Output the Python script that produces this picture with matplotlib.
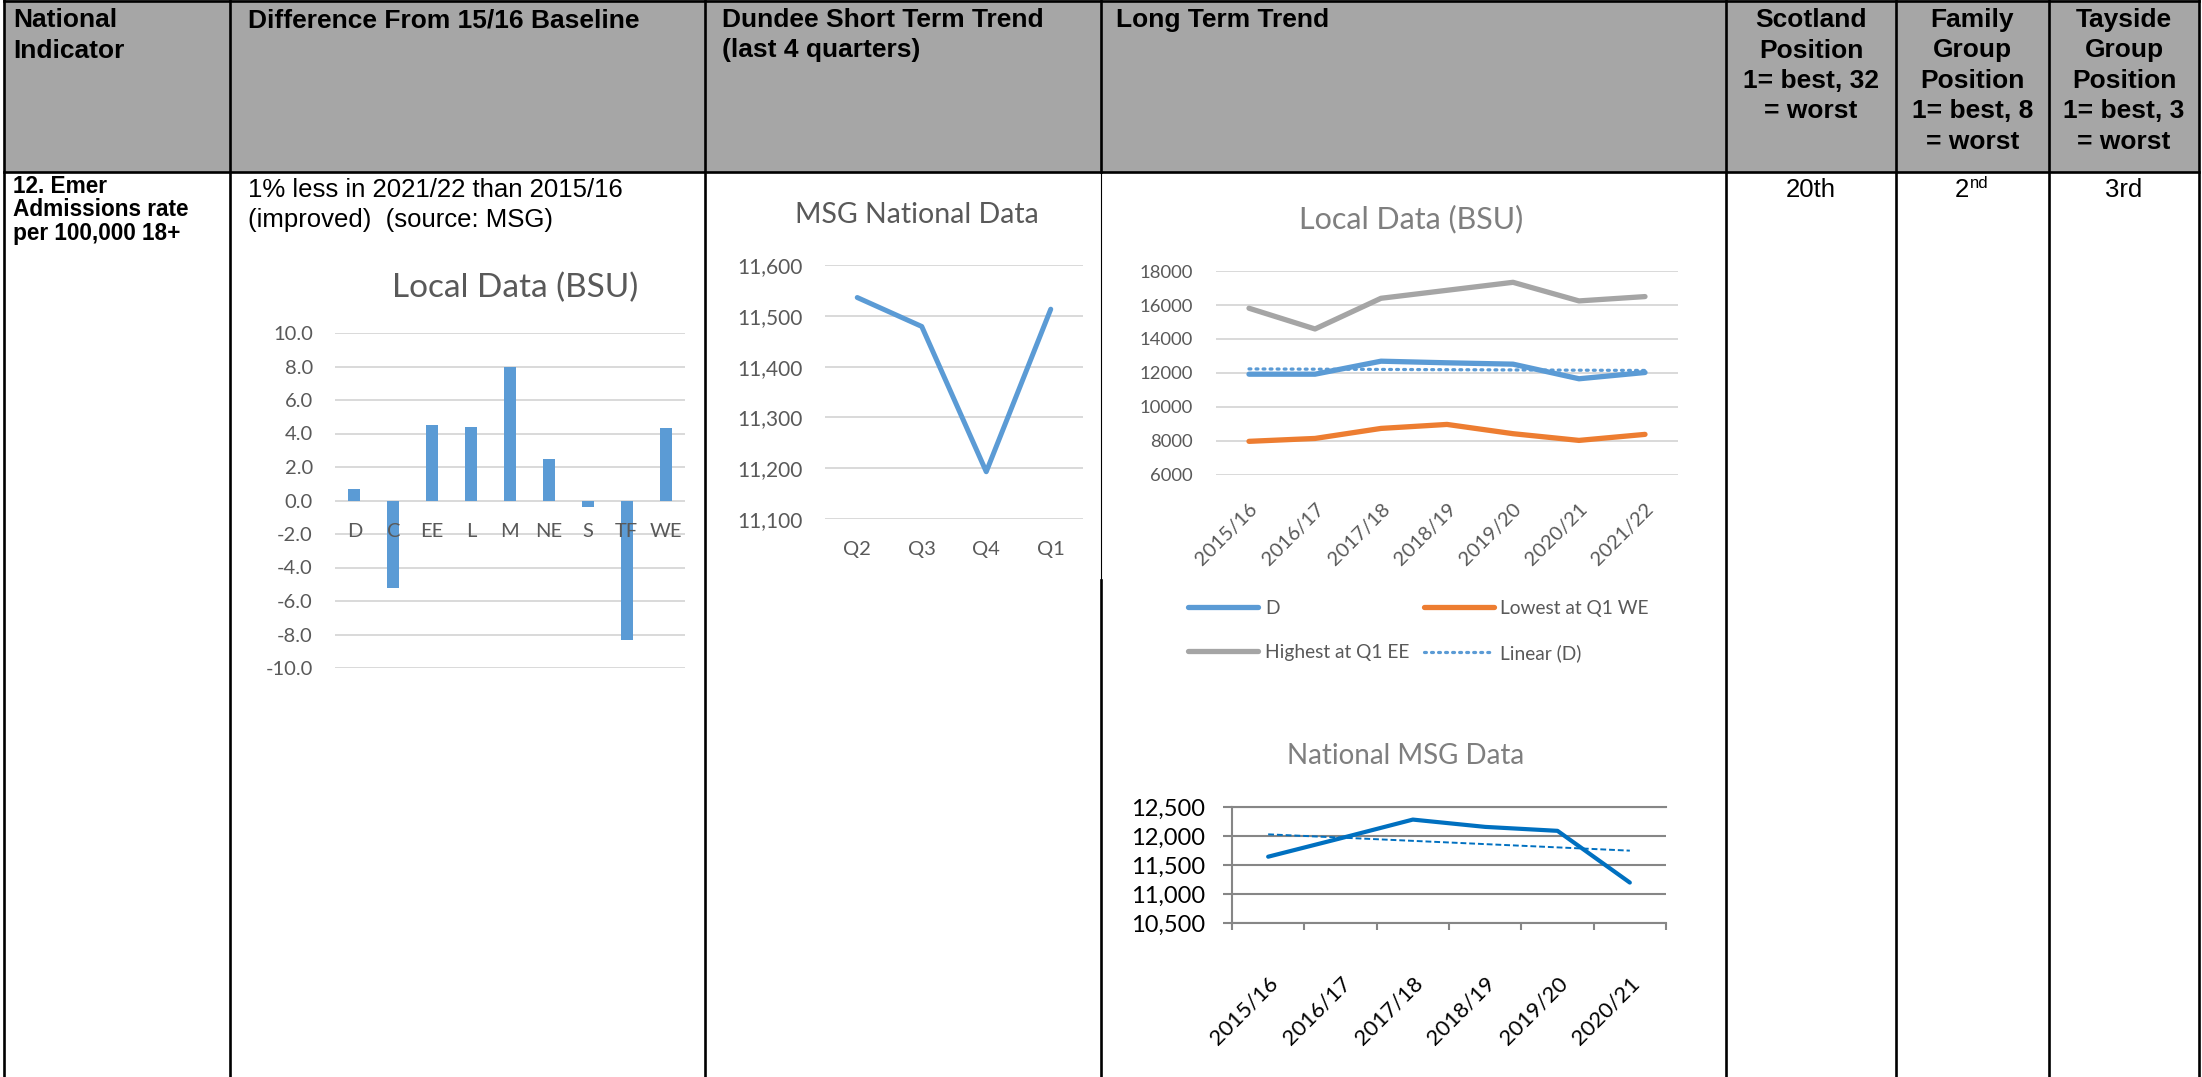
import matplotlib
matplotlib.use("Agg")
import matplotlib.pyplot as plt
import numpy as np
from matplotlib.patches import Rectangle
from matplotlib.ticker import FuncFormatter

W, H = 2202, 1077

# difference from 15/16 baseline by locality (Local Data (BSU))
bsu_areas = ["D", "C", "EE", "L", "M", "NE", "S", "TF", "WE"]
bsu_diff = [0.7, -5.2, 4.5, 4.4, 8.0, 2.5, -0.4, -8.3, 4.3]

# Dundee short term trend (MSG National Data)
quarters = ["Q2", "Q3", "Q4", "Q1"]
msg_quarterly = [11536, 11479, 11193, 11513]

# long term trend, local data
years_local = ["2015/16", "2016/17", "2017/18", "2018/19", "2019/20", "2020/21", "2021/22"]
local_d = [11930, 11930, 12695, 12600, 12520, 11660, 12030]
local_lowest_we = [7980, 8150, 8740, 8975, 8430, 8035, 8390]
local_highest_ee = [15810, 14590, 16395, 16865, 17335, 16240, 16495]

# long term trend, national MSG data
years_national = ["2015/16", "2016/17", "2017/18", "2018/19", "2019/20", "2020/21"]
national_msg = [11643, 11960, 12283, 12157, 12089, 11197]

# table text
header_lines = [
    ["National", "Indicator"],
    ["Difference From 15/16 Baseline"],
    ["Dundee Short Term Trend", "(last 4 quarters)"],
    ["Long Term Trend"],
    ["Scotland", "Position", "1= best, 32", "= worst"],
    ["Family", "Group", "Position", "1= best, 8", "= worst"],
    ["Tayside", "Group", "Position", "1= best, 3", "= worst"],
]
indicator_lines = ["12. Emer", "Admissions rate", "per 100,000 18+"]
difference_lines = ["1% less in 2021/22 than 2015/16", "(improved)  (source: MSG)"]
scotland_pos = "20th"
family_pos = ("2", "nd")
tayside_pos = "3rd"

BLUE = "#5B9BD5"
ORANGE = "#ED7D31"
GREY = "#A5A5A5"
DARK_BLUE = "#0070C0"
TXT = "#595959"
TABLE_FONT = "Liberation Sans"
CHART_FONT = "Lato"

col_edges = [4, 230, 705, 1101, 1726, 1896, 2049, 2199]
header_bottom = 172

fig = plt.figure(figsize=(W / 100, H / 100), dpi=100)

# background axes in pixel coordinates for the table
bg = fig.add_axes([0, 0, 1, 1])
bg.set_xlim(0, W)
bg.set_ylim(H, 0)
bg.axis("off")

bg.add_patch(Rectangle((col_edges[0], 0), col_edges[-1] - col_edges[0], header_bottom,
                       color="#A6A6A6", lw=0))
lw_border = 1.9
for i, x in enumerate(col_edges):
    if i == 3:
        bg.plot([x, x], [0, header_bottom], color="black", lw=lw_border)
        bg.plot([x, x], [header_bottom, 580], color="black", lw=0.8)
        bg.plot([x, x], [580, H], color="black", lw=lw_border)
    else:
        bg.plot([x, x], [0, H], color="black", lw=lw_border)
bg.plot([col_edges[0], col_edges[-1]], [1, 1], color="black", lw=lw_border)
bg.plot([col_edges[0], col_edges[-1]], [header_bottom, header_bottom], color="black", lw=lw_border)

# header text
left_x = [13, 248, 722, 1116]
for i, lines in enumerate(header_lines):
    for j, line in enumerate(lines):
        y = 27 + j * 30.5
        if i < 4:
            bg.text(left_x[i], y, line, fontsize=19, fontweight="bold", family=TABLE_FONT,
                    ha="left", va="baseline")
        else:
            cx = (col_edges[i] + col_edges[i + 1]) / 2
            bg.text(cx, y, line, fontsize=19, fontweight="bold", family=TABLE_FONT,
                    ha="center", va="baseline")

# body text
for j, line in enumerate(indicator_lines):
    bg.text(13, 193 + j * 23.5, line, fontsize=16.3, fontweight="bold", family=TABLE_FONT,
            ha="left", va="baseline")
for j, line in enumerate(difference_lines):
    bg.text(248, 197 + j * 30, line, fontsize=18.5, family=TABLE_FONT, ha="left", va="baseline")
bg.text((col_edges[4] + col_edges[5]) / 2, 197, scotland_pos, fontsize=18.5,
        family=TABLE_FONT, ha="center", va="baseline")
bg.text(1969, 197, family_pos[0], fontsize=18.5, family=TABLE_FONT, ha="right", va="baseline")
bg.text(1970, 188, family_pos[1], fontsize=12, family=TABLE_FONT, ha="left", va="baseline")
bg.text((col_edges[6] + col_edges[7]) / 2, 197, tayside_pos, fontsize=18.5,
        family=TABLE_FONT, ha="center", va="baseline")


def px_axes(left, top, right, bottom):
    ax = fig.add_axes([left / W, 1 - bottom / H, (right - left) / W, (bottom - top) / H])
    ax.set_facecolor("none")
    return ax


def chart_title(cx, baseline, text, size, color=TXT):
    bg.text(cx, baseline, text, fontsize=size, family=CHART_FONT, color=color,
            ha="center", va="baseline")


def clean_axes(ax):
    for s in ax.spines.values():
        s.set_visible(False)
    ax.yaxis.grid(True, color="#D9D9D9", lw=1.4)
    ax.set_axisbelow(True)


# chart 1: bar chart of difference from baseline
ax1 = px_axes(335, 333, 685, 668)
x1 = np.arange(len(bsu_areas))
ax1.bar(x1, bsu_diff, width=0.31, color=BLUE, zorder=3)
ax1.set_xlim(-0.5, len(bsu_areas) - 0.5)
ax1.set_ylim(-10, 10)
ax1.set_yticks(np.arange(-10, 10.1, 2))
ax1.yaxis.set_major_formatter(FuncFormatter(lambda v, p: f"{v:.1f}"))
clean_axes(ax1)
ax1.xaxis.set_zorder(5)  # category labels sit on top of the bars
ax1.spines["bottom"].set_position(("data", 0))
ax1.set_xticks(x1)
ax1.set_xticklabels(bsu_areas)
ax1.tick_params(axis="x", length=0, pad=16, labelsize=14.5, labelcolor=TXT)
ax1.tick_params(axis="y", length=0, pad=16, labelsize=14.5, labelcolor=TXT)
for lab in ax1.get_xticklabels() + ax1.get_yticklabels():
    lab.set_family(CHART_FONT)
chart_title(515, 297, "Local Data (BSU)", 24)

# chart 2: short term trend
ax2 = px_axes(825, 265, 1083, 519)
x2 = np.arange(len(quarters))
ax2.plot(x2, msg_quarterly, color=BLUE, lw=3.6, solid_capstyle="round",
         solid_joinstyle="round", zorder=3)
ax2.set_xlim(-0.5, len(quarters) - 0.5)
ax2.set_ylim(11100, 11600)
ax2.set_yticks(np.arange(11100, 11601, 100))
ax2.yaxis.set_major_formatter(FuncFormatter(lambda v, p: f"{v:,.0f}"))
clean_axes(ax2)
ax2.set_xticks(x2)
ax2.set_xticklabels(quarters)
ax2.tick_params(axis="x", length=0, pad=16, labelsize=14.5, labelcolor=TXT)
ax2.tick_params(axis="y", length=0, pad=16, labelsize=15, labelcolor=TXT)
for lab in ax2.get_xticklabels() + ax2.get_yticklabels():
    lab.set_family(CHART_FONT)
chart_title(917, 223, "MSG National Data", 20.5)

# chart 3: long term local data
ax3 = px_axes(1216, 271, 1678, 475)
x3 = np.arange(len(years_local))
ln_d, = ax3.plot(x3, local_d, color=BLUE, lw=3.8, solid_capstyle="round",
                 solid_joinstyle="round", zorder=3, label="D")
ln_low, = ax3.plot(x3, local_lowest_we, color=ORANGE, lw=3.8, solid_capstyle="round",
                   solid_joinstyle="round", zorder=3, label="Lowest at Q1 WE")
ln_high, = ax3.plot(x3, local_highest_ee, color=GREY, lw=3.8, solid_capstyle="round",
                    solid_joinstyle="round", zorder=3, label="Highest at Q1 EE")
slope, icpt = np.polyfit(x3, local_d, 1)
ln_trend, = ax3.plot(x3, slope * x3 + icpt, color=BLUE, lw=2.3, linestyle=(0, (0.6, 1.6)),
                     dash_capstyle="round", zorder=4, label="Linear (D)")
ax3.set_xlim(-0.5, len(years_local) - 0.5)
ax3.set_ylim(6000, 18000)
ax3.set_yticks(np.arange(6000, 18001, 2000))
clean_axes(ax3)
ax3.set_xticks(x3)
ax3.set_xticklabels(years_local, rotation=45, ha="right", va="top", rotation_mode="anchor")
ax3.tick_params(axis="x", length=0, pad=18, labelsize=14.5, labelcolor=TXT)
ax3.tick_params(axis="y", length=0, pad=16.5, labelsize=13.3, labelcolor=TXT)
for lab in ax3.get_xticklabels() + ax3.get_yticklabels():
    lab.set_family(CHART_FONT)
leg = ax3.legend(handles=[ln_d, ln_high, ln_low, ln_trend], ncol=2, loc="upper left",
                 bbox_to_anchor=(1188 / W, 1 - 600 / H), bbox_transform=fig.transFigure,
                 frameon=False, borderpad=0, borderaxespad=0, handlelength=3.65,
                 handletextpad=0.36, columnspacing=0.75, labelspacing=1.4,
                 prop={"family": CHART_FONT, "size": 13.8})
for t in leg.get_texts():
    t.set_color(TXT)
chart_title(1411, 228, "Local Data (BSU)", 22, color="#7F7F7F")

# chart 4: long term national MSG data
ax4 = px_axes(1232, 807, 1666, 923)
x4 = np.arange(len(years_national))
ax4.plot(x4, national_msg, color=DARK_BLUE, lw=3, solid_capstyle="round",
         solid_joinstyle="round", zorder=3)
slope4, icpt4 = np.polyfit(x4, national_msg, 1)
ax4.plot(x4, slope4 * x4 + icpt4, color=DARK_BLUE, lw=1.4, linestyle=(0, (3, 1.5)), zorder=3)
ax4.set_xlim(-0.5, len(years_national) - 0.5)
ax4.set_ylim(10500, 12500)
ax4.set_yticks(np.arange(10500, 12501, 500))
ax4.yaxis.set_major_formatter(FuncFormatter(lambda v, p: f"{v:,.0f}"))
ax4.spines["right"].set_visible(False)
for side in ["left", "bottom", "top"]:
    ax4.spines[side].set_color("#868686")
    ax4.spines[side].set_linewidth(1.5)
ax4.yaxis.grid(True, color="#868686", lw=1.5)
ax4.set_axisbelow(True)
ax4.set_xticks(x4)
ax4.set_xticklabels(years_national, rotation=45, ha="right", va="top", rotation_mode="anchor")
ax4.set_xticks(np.arange(-0.5, len(years_national), 1), minor=True)
ax4.tick_params(axis="x", which="major", length=0, pad=36, labelsize=15.8, labelcolor="black")
ax4.tick_params(axis="x", which="minor", length=5, width=1.5, color="#868686", direction="out")
ax4.tick_params(axis="y", length=6.5, width=1.5, color="#868686", direction="out", pad=13,
                labelsize=17, labelcolor="black")
for lab in ax4.get_xticklabels() + ax4.get_yticklabels():
    lab.set_family(CHART_FONT)
chart_title(1406, 764, "National MSG Data", 20, color="#7F7F7F")

fig.savefig("out.png", dpi=100)
